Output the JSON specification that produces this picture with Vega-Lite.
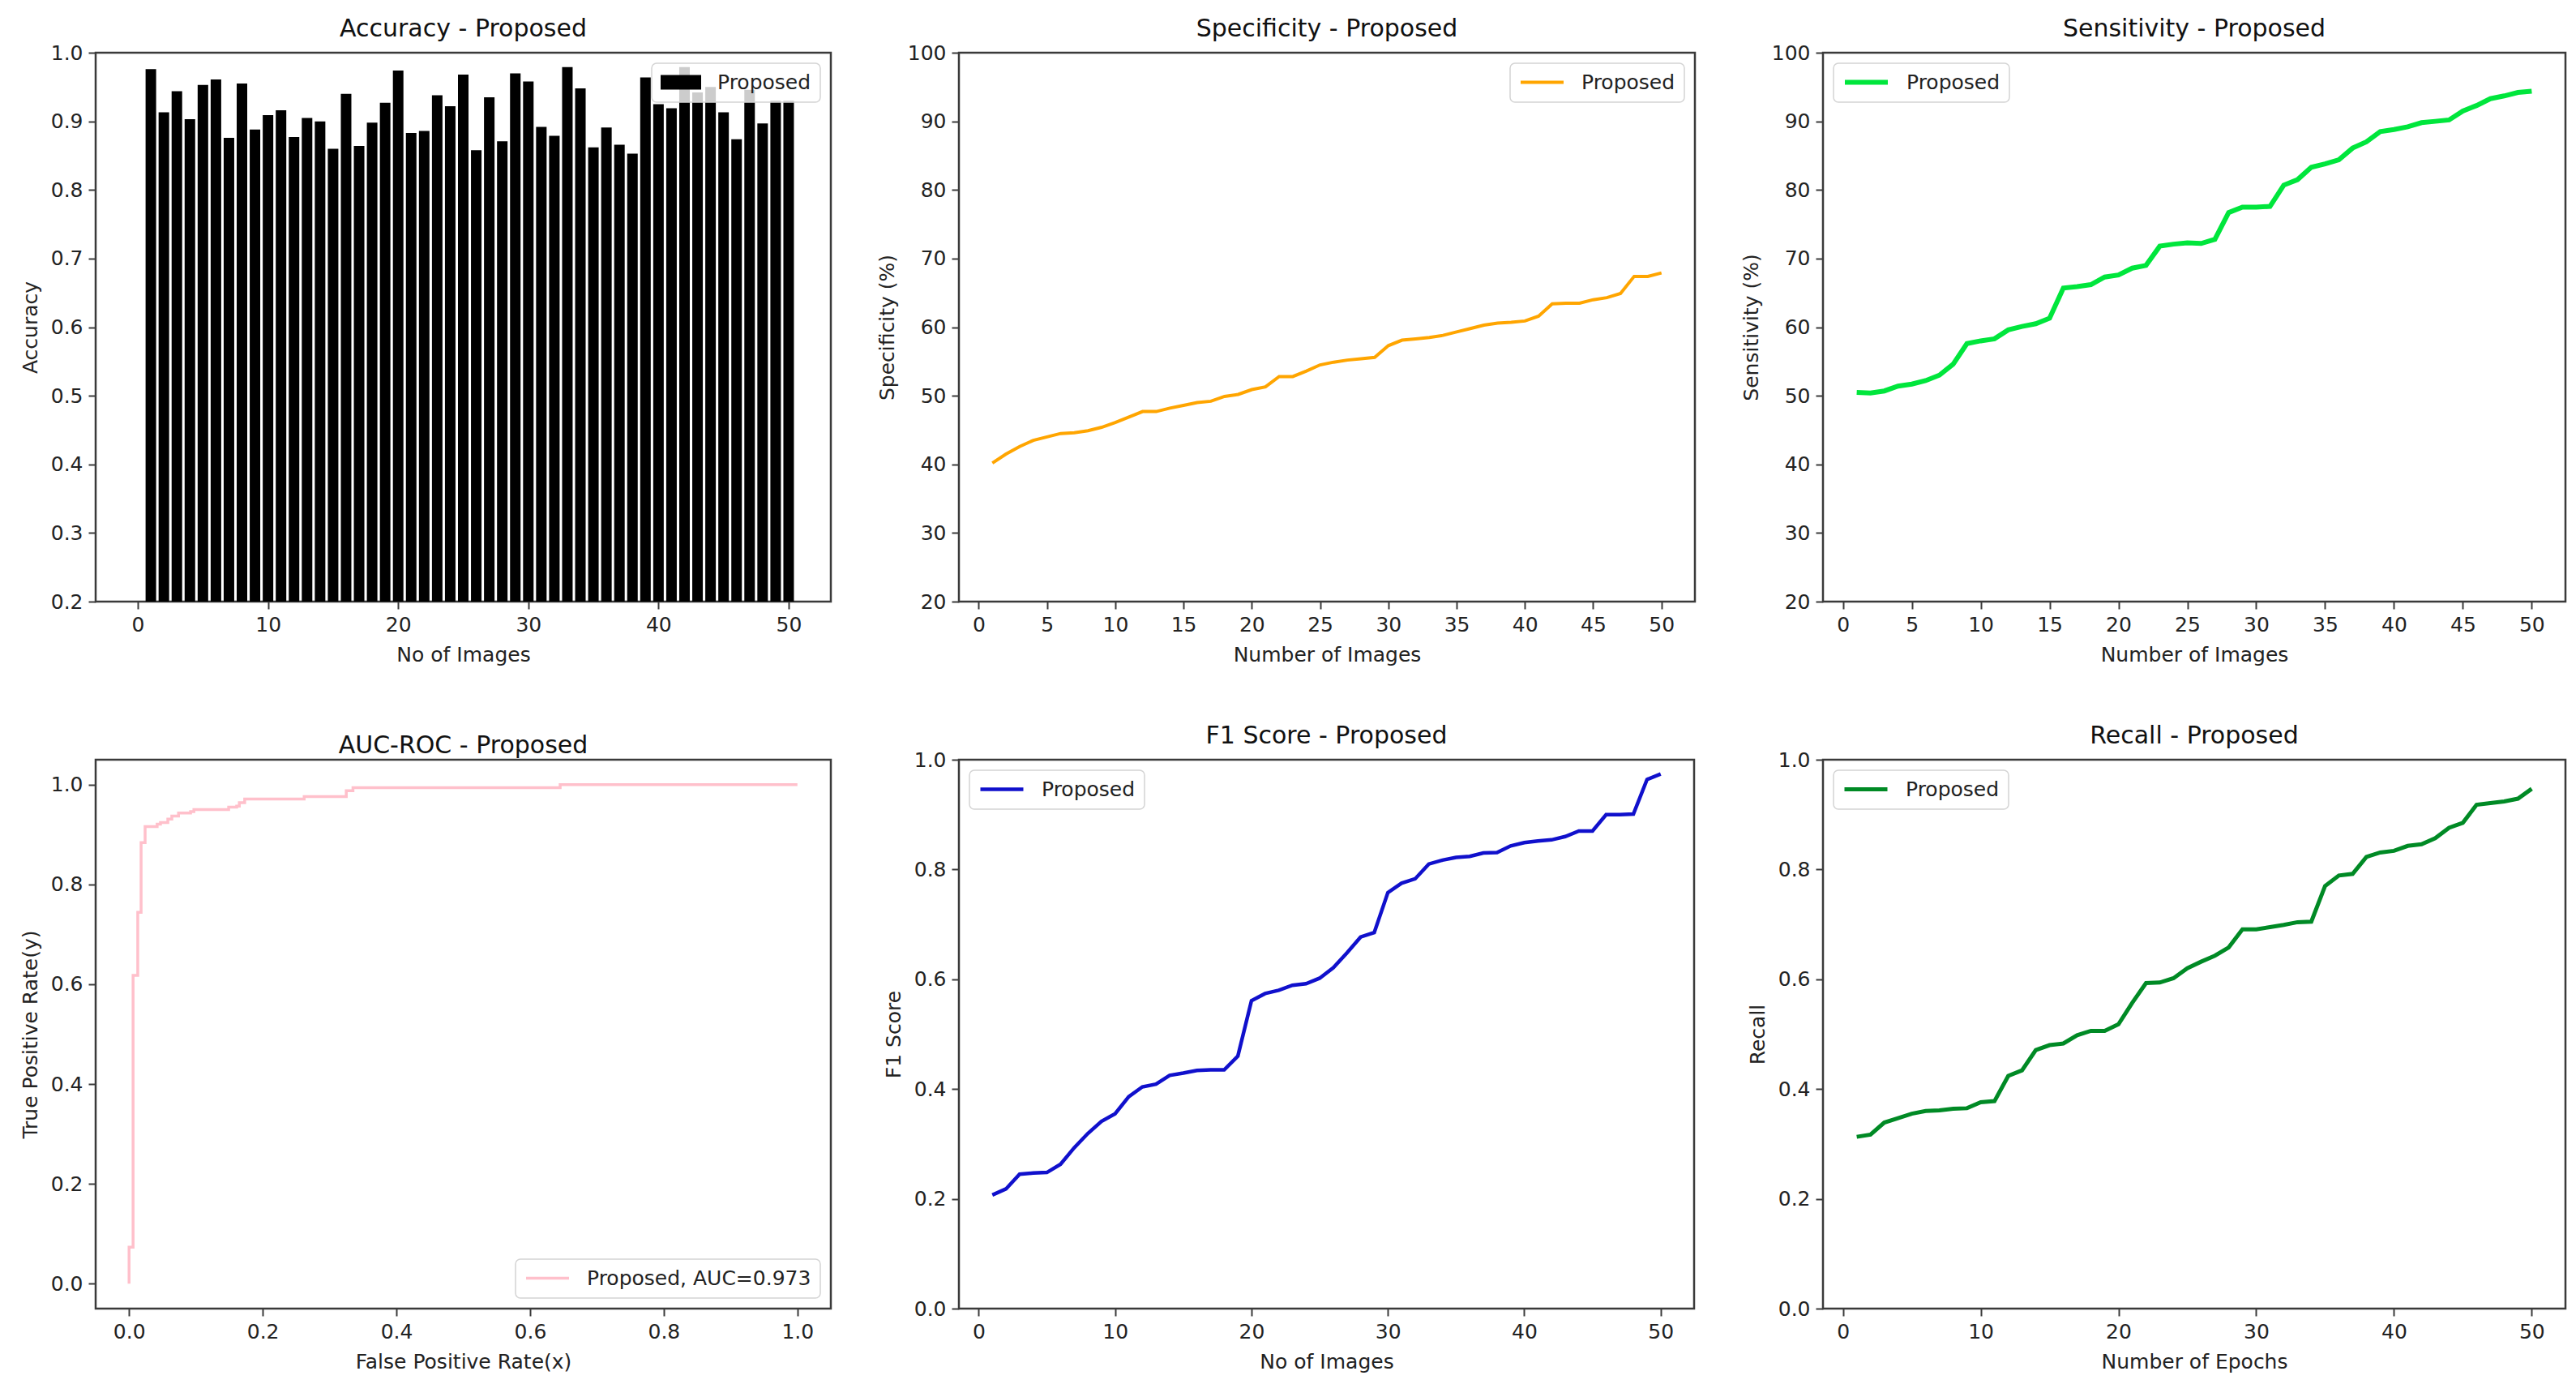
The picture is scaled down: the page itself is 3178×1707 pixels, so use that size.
{
  "$schema": "https://vega.github.io/schema/vega-lite/v6.json",
  "background": "white",
  "autosize": {"type": "pad"},
  "padding": {"left": 23, "top": 19, "right": 5, "bottom": 5},
  "config": {
    "font": "DejaVu Sans",
    "view": {"stroke": "#3a3a3a", "strokeWidth": 2.5},
    "title": {"font": "DejaVu Sans", "fontSize": 30, "fontWeight": "normal", "color": "#111", "offset": 2, "frame": "group"},
    "axis": {"domain": false, "grid": false, "tickColor": "#3a3a3a", "tickSize": 9, "tickWidth": 2, "labelFont": "DejaVu Sans", "labelFontSize": 25, "labelColor": "#222", "labelPadding": 7, "titleFont": "DejaVu Sans", "titleFontSize": 25, "titleFontWeight": "normal", "titleColor": "#222", "titlePadding": 12, "labelFlush": false, "labelOverlap": false},
    "legend": {"title": null, "labelFont": "DejaVu Sans", "labelFontSize": 25, "labelColor": "#222", "labelLimit": 500, "fillColor": "rgba(255,255,255,0.8)", "strokeColor": "#d4d4d4", "strokeWidth": 1.5, "cornerRadius": 6, "padding": 11, "offset": 13, "symbolSize": 2809, "symbolStrokeWidth": 4, "labelOffset": 20, "clipHeight": 25}
  },
  "datasets": {
    "accuracy": [
      {"image": 1, "accuracy": 0.976, "model": "Proposed"}, {"image": 2, "accuracy": 0.913, "model": "Proposed"}, {"image": 3, "accuracy": 0.944, "model": "Proposed"}, {"image": 4, "accuracy": 0.903, "model": "Proposed"}, {"image": 5, "accuracy": 0.953, "model": "Proposed"},
      {"image": 6, "accuracy": 0.961, "model": "Proposed"}, {"image": 7, "accuracy": 0.876, "model": "Proposed"}, {"image": 8, "accuracy": 0.955, "model": "Proposed"}, {"image": 9, "accuracy": 0.888, "model": "Proposed"}, {"image": 10, "accuracy": 0.909, "model": "Proposed"},
      {"image": 11, "accuracy": 0.916, "model": "Proposed"}, {"image": 12, "accuracy": 0.877, "model": "Proposed"}, {"image": 13, "accuracy": 0.905, "model": "Proposed"}, {"image": 14, "accuracy": 0.900, "model": "Proposed"}, {"image": 15, "accuracy": 0.860, "model": "Proposed"},
      {"image": 16, "accuracy": 0.940, "model": "Proposed"}, {"image": 17, "accuracy": 0.864, "model": "Proposed"}, {"image": 18, "accuracy": 0.898, "model": "Proposed"}, {"image": 19, "accuracy": 0.927, "model": "Proposed"}, {"image": 20, "accuracy": 0.974, "model": "Proposed"},
      {"image": 21, "accuracy": 0.883, "model": "Proposed"}, {"image": 22, "accuracy": 0.886, "model": "Proposed"}, {"image": 23, "accuracy": 0.938, "model": "Proposed"}, {"image": 24, "accuracy": 0.922, "model": "Proposed"}, {"image": 25, "accuracy": 0.968, "model": "Proposed"},
      {"image": 26, "accuracy": 0.858, "model": "Proposed"}, {"image": 27, "accuracy": 0.935, "model": "Proposed"}, {"image": 28, "accuracy": 0.871, "model": "Proposed"}, {"image": 29, "accuracy": 0.970, "model": "Proposed"}, {"image": 30, "accuracy": 0.958, "model": "Proposed"},
      {"image": 31, "accuracy": 0.892, "model": "Proposed"}, {"image": 32, "accuracy": 0.879, "model": "Proposed"}, {"image": 33, "accuracy": 0.979, "model": "Proposed"}, {"image": 34, "accuracy": 0.948, "model": "Proposed"}, {"image": 35, "accuracy": 0.862, "model": "Proposed"},
      {"image": 36, "accuracy": 0.891, "model": "Proposed"}, {"image": 37, "accuracy": 0.866, "model": "Proposed"}, {"image": 38, "accuracy": 0.853, "model": "Proposed"}, {"image": 39, "accuracy": 0.964, "model": "Proposed"}, {"image": 40, "accuracy": 0.925, "model": "Proposed"},
      {"image": 41, "accuracy": 0.919, "model": "Proposed"}, {"image": 42, "accuracy": 0.979, "model": "Proposed"}, {"image": 43, "accuracy": 0.942, "model": "Proposed"}, {"image": 44, "accuracy": 0.950, "model": "Proposed"}, {"image": 45, "accuracy": 0.913, "model": "Proposed"},
      {"image": 46, "accuracy": 0.874, "model": "Proposed"}, {"image": 47, "accuracy": 0.946, "model": "Proposed"}, {"image": 48, "accuracy": 0.897, "model": "Proposed"}, {"image": 49, "accuracy": 0.930, "model": "Proposed"}, {"image": 50, "accuracy": 0.930, "model": "Proposed"}
    ],
    "specificity": [
      {"image": 1, "specificity": 40.2, "model": "Proposed"}, {"image": 2, "specificity": 41.5, "model": "Proposed"}, {"image": 3, "specificity": 42.6, "model": "Proposed"}, {"image": 4, "specificity": 43.5, "model": "Proposed"}, {"image": 5, "specificity": 44.0, "model": "Proposed"},
      {"image": 6, "specificity": 44.5, "model": "Proposed"}, {"image": 7, "specificity": 44.6, "model": "Proposed"}, {"image": 8, "specificity": 44.9, "model": "Proposed"}, {"image": 9, "specificity": 45.4, "model": "Proposed"}, {"image": 10, "specificity": 46.1, "model": "Proposed"},
      {"image": 11, "specificity": 46.9, "model": "Proposed"}, {"image": 12, "specificity": 47.7, "model": "Proposed"}, {"image": 13, "specificity": 47.7, "model": "Proposed"}, {"image": 14, "specificity": 48.2, "model": "Proposed"}, {"image": 15, "specificity": 48.6, "model": "Proposed"},
      {"image": 16, "specificity": 49.0, "model": "Proposed"}, {"image": 17, "specificity": 49.2, "model": "Proposed"}, {"image": 18, "specificity": 49.9, "model": "Proposed"}, {"image": 19, "specificity": 50.2, "model": "Proposed"}, {"image": 20, "specificity": 50.9, "model": "Proposed"},
      {"image": 21, "specificity": 51.3, "model": "Proposed"}, {"image": 22, "specificity": 52.8, "model": "Proposed"}, {"image": 23, "specificity": 52.8, "model": "Proposed"}, {"image": 24, "specificity": 53.6, "model": "Proposed"}, {"image": 25, "specificity": 54.5, "model": "Proposed"},
      {"image": 26, "specificity": 54.9, "model": "Proposed"}, {"image": 27, "specificity": 55.2, "model": "Proposed"}, {"image": 28, "specificity": 55.4, "model": "Proposed"}, {"image": 29, "specificity": 55.6, "model": "Proposed"}, {"image": 30, "specificity": 57.3, "model": "Proposed"},
      {"image": 31, "specificity": 58.1, "model": "Proposed"}, {"image": 32, "specificity": 58.3, "model": "Proposed"}, {"image": 33, "specificity": 58.5, "model": "Proposed"}, {"image": 34, "specificity": 58.8, "model": "Proposed"}, {"image": 35, "specificity": 59.3, "model": "Proposed"},
      {"image": 36, "specificity": 59.8, "model": "Proposed"}, {"image": 37, "specificity": 60.3, "model": "Proposed"}, {"image": 38, "specificity": 60.6, "model": "Proposed"}, {"image": 39, "specificity": 60.7, "model": "Proposed"}, {"image": 40, "specificity": 60.9, "model": "Proposed"},
      {"image": 41, "specificity": 61.6, "model": "Proposed"}, {"image": 42, "specificity": 63.4, "model": "Proposed"}, {"image": 43, "specificity": 63.5, "model": "Proposed"}, {"image": 44, "specificity": 63.5, "model": "Proposed"}, {"image": 45, "specificity": 64.0, "model": "Proposed"},
      {"image": 46, "specificity": 64.3, "model": "Proposed"}, {"image": 47, "specificity": 64.9, "model": "Proposed"}, {"image": 48, "specificity": 67.4, "model": "Proposed"}, {"image": 49, "specificity": 67.4, "model": "Proposed"}, {"image": 50, "specificity": 67.9, "model": "Proposed"}
    ],
    "sensitivity": [
      {"image": 1, "sensitivity": 50.5, "model": "Proposed"}, {"image": 2, "sensitivity": 50.4, "model": "Proposed"}, {"image": 3, "sensitivity": 50.7, "model": "Proposed"}, {"image": 4, "sensitivity": 51.4, "model": "Proposed"}, {"image": 5, "sensitivity": 51.7, "model": "Proposed"},
      {"image": 6, "sensitivity": 52.2, "model": "Proposed"}, {"image": 7, "sensitivity": 53.0, "model": "Proposed"}, {"image": 8, "sensitivity": 54.6, "model": "Proposed"}, {"image": 9, "sensitivity": 57.6, "model": "Proposed"}, {"image": 10, "sensitivity": 58.0, "model": "Proposed"},
      {"image": 11, "sensitivity": 58.3, "model": "Proposed"}, {"image": 12, "sensitivity": 59.6, "model": "Proposed"}, {"image": 13, "sensitivity": 60.1, "model": "Proposed"}, {"image": 14, "sensitivity": 60.5, "model": "Proposed"}, {"image": 15, "sensitivity": 61.3, "model": "Proposed"},
      {"image": 16, "sensitivity": 65.7, "model": "Proposed"}, {"image": 17, "sensitivity": 65.9, "model": "Proposed"}, {"image": 18, "sensitivity": 66.2, "model": "Proposed"}, {"image": 19, "sensitivity": 67.3, "model": "Proposed"}, {"image": 20, "sensitivity": 67.6, "model": "Proposed"},
      {"image": 21, "sensitivity": 68.6, "model": "Proposed"}, {"image": 22, "sensitivity": 69.0, "model": "Proposed"}, {"image": 23, "sensitivity": 71.8, "model": "Proposed"}, {"image": 24, "sensitivity": 72.1, "model": "Proposed"}, {"image": 25, "sensitivity": 72.3, "model": "Proposed"},
      {"image": 26, "sensitivity": 72.2, "model": "Proposed"}, {"image": 27, "sensitivity": 72.8, "model": "Proposed"}, {"image": 28, "sensitivity": 76.7, "model": "Proposed"}, {"image": 29, "sensitivity": 77.5, "model": "Proposed"}, {"image": 30, "sensitivity": 77.5, "model": "Proposed"},
      {"image": 31, "sensitivity": 77.6, "model": "Proposed"}, {"image": 32, "sensitivity": 80.7, "model": "Proposed"}, {"image": 33, "sensitivity": 81.5, "model": "Proposed"}, {"image": 34, "sensitivity": 83.3, "model": "Proposed"}, {"image": 35, "sensitivity": 83.8, "model": "Proposed"},
      {"image": 36, "sensitivity": 84.4, "model": "Proposed"}, {"image": 37, "sensitivity": 86.1, "model": "Proposed"}, {"image": 38, "sensitivity": 87.0, "model": "Proposed"}, {"image": 39, "sensitivity": 88.5, "model": "Proposed"}, {"image": 40, "sensitivity": 88.8, "model": "Proposed"},
      {"image": 41, "sensitivity": 89.2, "model": "Proposed"}, {"image": 42, "sensitivity": 89.8, "model": "Proposed"}, {"image": 43, "sensitivity": 90.0, "model": "Proposed"}, {"image": 44, "sensitivity": 90.2, "model": "Proposed"}, {"image": 45, "sensitivity": 91.5, "model": "Proposed"},
      {"image": 46, "sensitivity": 92.3, "model": "Proposed"}, {"image": 47, "sensitivity": 93.3, "model": "Proposed"}, {"image": 48, "sensitivity": 93.7, "model": "Proposed"}, {"image": 49, "sensitivity": 94.2, "model": "Proposed"}, {"image": 50, "sensitivity": 94.4, "model": "Proposed"}
    ],
    "roc": [
      {"step": 0, "fpr": 0.0, "tpr": 0.0, "model": "Proposed"}, {"step": 1, "fpr": 0.0, "tpr": 0.073, "model": "Proposed"}, {"step": 2, "fpr": 0.006, "tpr": 0.073, "model": "Proposed"}, {"step": 3, "fpr": 0.006, "tpr": 0.618, "model": "Proposed"},
      {"step": 4, "fpr": 0.013, "tpr": 0.618, "model": "Proposed"}, {"step": 5, "fpr": 0.013, "tpr": 0.744, "model": "Proposed"}, {"step": 6, "fpr": 0.018, "tpr": 0.744, "model": "Proposed"}, {"step": 7, "fpr": 0.018, "tpr": 0.884, "model": "Proposed"},
      {"step": 8, "fpr": 0.024, "tpr": 0.884, "model": "Proposed"}, {"step": 9, "fpr": 0.024, "tpr": 0.916, "model": "Proposed"}, {"step": 10, "fpr": 0.042, "tpr": 0.916, "model": "Proposed"}, {"step": 11, "fpr": 0.042, "tpr": 0.921, "model": "Proposed"},
      {"step": 12, "fpr": 0.047, "tpr": 0.921, "model": "Proposed"}, {"step": 13, "fpr": 0.047, "tpr": 0.924, "model": "Proposed"}, {"step": 14, "fpr": 0.058, "tpr": 0.924, "model": "Proposed"}, {"step": 15, "fpr": 0.058, "tpr": 0.931, "model": "Proposed"},
      {"step": 16, "fpr": 0.064, "tpr": 0.931, "model": "Proposed"}, {"step": 17, "fpr": 0.064, "tpr": 0.937, "model": "Proposed"}, {"step": 18, "fpr": 0.074, "tpr": 0.937, "model": "Proposed"}, {"step": 19, "fpr": 0.074, "tpr": 0.943, "model": "Proposed"},
      {"step": 20, "fpr": 0.092, "tpr": 0.943, "model": "Proposed"}, {"step": 21, "fpr": 0.092, "tpr": 0.946, "model": "Proposed"}, {"step": 22, "fpr": 0.097, "tpr": 0.946, "model": "Proposed"}, {"step": 23, "fpr": 0.097, "tpr": 0.950, "model": "Proposed"},
      {"step": 24, "fpr": 0.149, "tpr": 0.950, "model": "Proposed"}, {"step": 25, "fpr": 0.149, "tpr": 0.955, "model": "Proposed"}, {"step": 26, "fpr": 0.161, "tpr": 0.955, "model": "Proposed"}, {"step": 27, "fpr": 0.161, "tpr": 0.957, "model": "Proposed"},
      {"step": 28, "fpr": 0.165, "tpr": 0.957, "model": "Proposed"}, {"step": 29, "fpr": 0.165, "tpr": 0.964, "model": "Proposed"}, {"step": 30, "fpr": 0.173, "tpr": 0.964, "model": "Proposed"}, {"step": 31, "fpr": 0.173, "tpr": 0.971, "model": "Proposed"},
      {"step": 32, "fpr": 0.262, "tpr": 0.971, "model": "Proposed"}, {"step": 33, "fpr": 0.262, "tpr": 0.976, "model": "Proposed"}, {"step": 34, "fpr": 0.325, "tpr": 0.976, "model": "Proposed"}, {"step": 35, "fpr": 0.325, "tpr": 0.988, "model": "Proposed"},
      {"step": 36, "fpr": 0.335, "tpr": 0.988, "model": "Proposed"}, {"step": 37, "fpr": 0.335, "tpr": 0.994, "model": "Proposed"}, {"step": 38, "fpr": 0.645, "tpr": 0.994, "model": "Proposed"}, {"step": 39, "fpr": 0.645, "tpr": 1.0, "model": "Proposed"},
      {"step": 40, "fpr": 1.0, "tpr": 1.0, "model": "Proposed"}
    ],
    "f1": [
      {"image": 1, "f1": 0.207, "model": "Proposed"}, {"image": 2, "f1": 0.218, "model": "Proposed"}, {"image": 3, "f1": 0.245, "model": "Proposed"}, {"image": 4, "f1": 0.247, "model": "Proposed"}, {"image": 5, "f1": 0.248, "model": "Proposed"},
      {"image": 6, "f1": 0.263, "model": "Proposed"}, {"image": 7, "f1": 0.293, "model": "Proposed"}, {"image": 8, "f1": 0.319, "model": "Proposed"}, {"image": 9, "f1": 0.341, "model": "Proposed"}, {"image": 10, "f1": 0.355, "model": "Proposed"},
      {"image": 11, "f1": 0.386, "model": "Proposed"}, {"image": 12, "f1": 0.404, "model": "Proposed"}, {"image": 13, "f1": 0.409, "model": "Proposed"}, {"image": 14, "f1": 0.425, "model": "Proposed"}, {"image": 15, "f1": 0.429, "model": "Proposed"},
      {"image": 16, "f1": 0.434, "model": "Proposed"}, {"image": 17, "f1": 0.435, "model": "Proposed"}, {"image": 18, "f1": 0.435, "model": "Proposed"}, {"image": 19, "f1": 0.460, "model": "Proposed"}, {"image": 20, "f1": 0.561, "model": "Proposed"},
      {"image": 21, "f1": 0.574, "model": "Proposed"}, {"image": 22, "f1": 0.580, "model": "Proposed"}, {"image": 23, "f1": 0.589, "model": "Proposed"}, {"image": 24, "f1": 0.592, "model": "Proposed"}, {"image": 25, "f1": 0.602, "model": "Proposed"},
      {"image": 26, "f1": 0.621, "model": "Proposed"}, {"image": 27, "f1": 0.648, "model": "Proposed"}, {"image": 28, "f1": 0.677, "model": "Proposed"}, {"image": 29, "f1": 0.685, "model": "Proposed"}, {"image": 30, "f1": 0.758, "model": "Proposed"},
      {"image": 31, "f1": 0.775, "model": "Proposed"}, {"image": 32, "f1": 0.783, "model": "Proposed"}, {"image": 33, "f1": 0.810, "model": "Proposed"}, {"image": 34, "f1": 0.817, "model": "Proposed"}, {"image": 35, "f1": 0.822, "model": "Proposed"},
      {"image": 36, "f1": 0.824, "model": "Proposed"}, {"image": 37, "f1": 0.830, "model": "Proposed"}, {"image": 38, "f1": 0.831, "model": "Proposed"}, {"image": 39, "f1": 0.843, "model": "Proposed"}, {"image": 40, "f1": 0.849, "model": "Proposed"},
      {"image": 41, "f1": 0.852, "model": "Proposed"}, {"image": 42, "f1": 0.854, "model": "Proposed"}, {"image": 43, "f1": 0.860, "model": "Proposed"}, {"image": 44, "f1": 0.870, "model": "Proposed"}, {"image": 45, "f1": 0.870, "model": "Proposed"},
      {"image": 46, "f1": 0.900, "model": "Proposed"}, {"image": 47, "f1": 0.900, "model": "Proposed"}, {"image": 48, "f1": 0.901, "model": "Proposed"}, {"image": 49, "f1": 0.964, "model": "Proposed"}, {"image": 50, "f1": 0.974, "model": "Proposed"}
    ],
    "recall": [
      {"epoch": 1, "recall": 0.313, "model": "Proposed"}, {"epoch": 2, "recall": 0.317, "model": "Proposed"}, {"epoch": 3, "recall": 0.339, "model": "Proposed"}, {"epoch": 4, "recall": 0.347, "model": "Proposed"}, {"epoch": 5, "recall": 0.355, "model": "Proposed"},
      {"epoch": 6, "recall": 0.360, "model": "Proposed"}, {"epoch": 7, "recall": 0.361, "model": "Proposed"}, {"epoch": 8, "recall": 0.364, "model": "Proposed"}, {"epoch": 9, "recall": 0.365, "model": "Proposed"}, {"epoch": 10, "recall": 0.376, "model": "Proposed"},
      {"epoch": 11, "recall": 0.378, "model": "Proposed"}, {"epoch": 12, "recall": 0.424, "model": "Proposed"}, {"epoch": 13, "recall": 0.434, "model": "Proposed"}, {"epoch": 14, "recall": 0.471, "model": "Proposed"}, {"epoch": 15, "recall": 0.480, "model": "Proposed"},
      {"epoch": 16, "recall": 0.483, "model": "Proposed"}, {"epoch": 17, "recall": 0.498, "model": "Proposed"}, {"epoch": 18, "recall": 0.506, "model": "Proposed"}, {"epoch": 19, "recall": 0.506, "model": "Proposed"}, {"epoch": 20, "recall": 0.518, "model": "Proposed"},
      {"epoch": 21, "recall": 0.557, "model": "Proposed"}, {"epoch": 22, "recall": 0.593, "model": "Proposed"}, {"epoch": 23, "recall": 0.594, "model": "Proposed"}, {"epoch": 24, "recall": 0.602, "model": "Proposed"}, {"epoch": 25, "recall": 0.620, "model": "Proposed"},
      {"epoch": 26, "recall": 0.632, "model": "Proposed"}, {"epoch": 27, "recall": 0.643, "model": "Proposed"}, {"epoch": 28, "recall": 0.658, "model": "Proposed"}, {"epoch": 29, "recall": 0.691, "model": "Proposed"}, {"epoch": 30, "recall": 0.691, "model": "Proposed"},
      {"epoch": 31, "recall": 0.695, "model": "Proposed"}, {"epoch": 32, "recall": 0.699, "model": "Proposed"}, {"epoch": 33, "recall": 0.704, "model": "Proposed"}, {"epoch": 34, "recall": 0.705, "model": "Proposed"}, {"epoch": 35, "recall": 0.770, "model": "Proposed"},
      {"epoch": 36, "recall": 0.789, "model": "Proposed"}, {"epoch": 37, "recall": 0.792, "model": "Proposed"}, {"epoch": 38, "recall": 0.823, "model": "Proposed"}, {"epoch": 39, "recall": 0.831, "model": "Proposed"}, {"epoch": 40, "recall": 0.834, "model": "Proposed"},
      {"epoch": 41, "recall": 0.843, "model": "Proposed"}, {"epoch": 42, "recall": 0.846, "model": "Proposed"}, {"epoch": 43, "recall": 0.857, "model": "Proposed"}, {"epoch": 44, "recall": 0.876, "model": "Proposed"}, {"epoch": 45, "recall": 0.885, "model": "Proposed"},
      {"epoch": 46, "recall": 0.918, "model": "Proposed"}, {"epoch": 47, "recall": 0.921, "model": "Proposed"}, {"epoch": 48, "recall": 0.924, "model": "Proposed"}, {"epoch": 49, "recall": 0.929, "model": "Proposed"}, {"epoch": 50, "recall": 0.947, "model": "Proposed"}
    ]
  },
  "bounds": "flush",
  "columns": 3,
  "spacing": {"column": 158, "row": 195},
  "resolve": {"scale": {"color": "independent"}, "legend": {"color": "independent"}},
  "concat": [
    {
      "width": 907, "height": 677,
      "title": "Accuracy - Proposed",
      "data": {"name": "accuracy"},
      "mark": {"type": "bar", "size": 13, "clip": true},
      "encoding": {
        "x": {"field": "image", "type": "quantitative", "scale": {"domain": [-2.93, 52.93], "nice": false, "zero": false}, "axis": {"values": [0, 10, 20, 30, 40, 50], "title": "No of Images"}},
        "y": {"field": "accuracy", "type": "quantitative", "scale": {"domain": [0.2, 1.0], "nice": false, "zero": false}, "axis": {"values": [0.2, 0.3, 0.4, 0.5, 0.6, 0.7, 0.8, 0.9, 1.0], "format": ".1f", "title": "Accuracy"}},
        "color": {"field": "model", "type": "nominal", "scale": {"range": ["#000000"]}, "legend": {"orient": "top-right", "symbolType": "M-1,-0.36H1V0.36H-1Z", "symbolSize": 2500, "symbolStrokeWidth": 0}}
      }
    },
    {
      "width": 908, "height": 677,
      "title": "Specificity - Proposed",
      "data": {"name": "specificity"},
      "mark": {"type": "line", "strokeWidth": 4, "clip": true},
      "encoding": {
        "x": {"field": "image", "type": "quantitative", "scale": {"domain": [-1.45, 52.45], "nice": false, "zero": false}, "axis": {"values": [0, 5, 10, 15, 20, 25, 30, 35, 40, 45, 50], "title": "Number of Images"}},
        "y": {"field": "specificity", "type": "quantitative", "scale": {"domain": [20, 100], "nice": false, "zero": false}, "axis": {"values": [20, 30, 40, 50, 60, 70, 80, 90, 100], "title": "Specificity (%)"}},
        "color": {"field": "model", "type": "nominal", "scale": {"range": ["#ffa500"]}, "legend": {"orient": "top-right"}}
      }
    },
    {
      "width": 916, "height": 677,
      "title": "Sensitivity - Proposed",
      "data": {"name": "sensitivity"},
      "mark": {"type": "line", "strokeWidth": 6, "clip": true},
      "encoding": {
        "x": {"field": "image", "type": "quantitative", "scale": {"domain": [-1.45, 52.45], "nice": false, "zero": false}, "axis": {"values": [0, 5, 10, 15, 20, 25, 30, 35, 40, 45, 50], "title": "Number of Images"}},
        "y": {"field": "sensitivity", "type": "quantitative", "scale": {"domain": [20, 100], "nice": false, "zero": false}, "axis": {"values": [20, 30, 40, 50, 60, 70, 80, 90, 100], "title": "Sensitivity (%)"}},
        "color": {"field": "model", "type": "nominal", "scale": {"range": ["#00e63c"]}, "legend": {"orient": "top-left", "symbolStrokeWidth": 6}}
      }
    },
    {
      "width": 907, "height": 677,
      "title": "AUC-ROC - Proposed",
      "data": {"name": "roc"},
      "mark": {"type": "line", "strokeWidth": 3.5, "clip": true},
      "encoding": {
        "x": {"field": "fpr", "type": "quantitative", "scale": {"domain": [-0.05, 1.05], "nice": false, "zero": false}, "axis": {"values": [0, 0.2, 0.4, 0.6, 0.8, 1.0], "format": ".1f", "title": "False Positive Rate(x)"}},
        "y": {"field": "tpr", "type": "quantitative", "scale": {"domain": [-0.05, 1.05], "nice": false, "zero": false}, "axis": {"values": [0, 0.2, 0.4, 0.6, 0.8, 1.0], "format": ".1f", "title": "True Positive Rate(y)"}},
        "order": {"field": "step", "type": "quantitative"},
        "color": {"field": "model", "type": "nominal", "scale": {"range": ["#ffc0cb"]}, "legend": {"orient": "bottom-right", "labelExpr": "datum.label + ', AUC=0.973'", "symbolStrokeWidth": 3.5}}
      }
    },
    {
      "width": 907, "height": 677,
      "title": "F1 Score - Proposed",
      "data": {"name": "f1"},
      "mark": {"type": "line", "strokeWidth": 4.5, "clip": true},
      "encoding": {
        "x": {"field": "image", "type": "quantitative", "scale": {"domain": [-1.45, 52.45], "nice": false, "zero": false}, "axis": {"values": [0, 10, 20, 30, 40, 50], "title": "No of Images"}},
        "y": {"field": "f1", "type": "quantitative", "scale": {"domain": [0, 1], "nice": false, "zero": false}, "axis": {"values": [0, 0.2, 0.4, 0.6, 0.8, 1.0], "format": ".1f", "title": "F1 Score"}},
        "color": {"field": "model", "type": "nominal", "scale": {"range": ["#1010cc"]}, "legend": {"orient": "top-left", "symbolStrokeWidth": 4.5}}
      }
    },
    {
      "width": 916, "height": 677,
      "title": "Recall - Proposed",
      "data": {"name": "recall"},
      "mark": {"type": "line", "strokeWidth": 5, "clip": true},
      "encoding": {
        "x": {"field": "epoch", "type": "quantitative", "scale": {"domain": [-1.45, 52.45], "nice": false, "zero": false}, "axis": {"values": [0, 10, 20, 30, 40, 50], "title": "Number of Epochs"}},
        "y": {"field": "recall", "type": "quantitative", "scale": {"domain": [0, 1], "nice": false, "zero": false}, "axis": {"values": [0, 0.2, 0.4, 0.6, 0.8, 1.0], "format": ".1f", "title": "Recall"}},
        "color": {"field": "model", "type": "nominal", "scale": {"range": ["#008a25"]}, "legend": {"orient": "top-left", "symbolStrokeWidth": 5}}
      }
    }
  ]
}
